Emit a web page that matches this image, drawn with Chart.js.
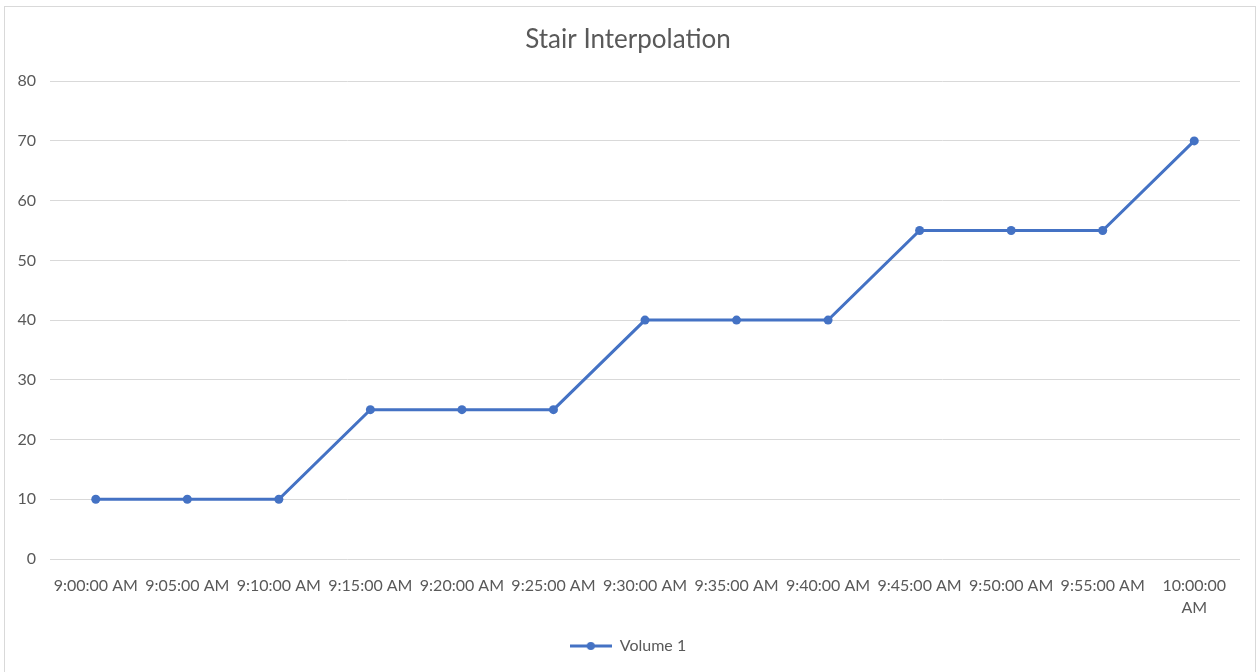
<!DOCTYPE html>
<html>
<head>
<meta charset="utf-8">
<script src="https://cdn.jsdelivr.net/npm/chart.js@4.4.1/dist/chart.umd.min.js"></script>
<style>
  html, body { margin: 0; padding: 0; background: #fff; }
  #frame {
    position: absolute; left: 4px; top: 6px;
    width: 1252px; height: 670px;
    border: 1px solid #d9d9d9; box-sizing: border-box;
  }
  #chart-stair { display: block; }
</style>
</head>
<body>
<div id="frame"><canvas id="chart-stair" width="1250" height="668"></canvas></div>
<script>
const timeLabels = [
  "9:00:00 AM", "9:05:00 AM", "9:10:00 AM", "9:15:00 AM", "9:20:00 AM",
  "9:25:00 AM", "9:30:00 AM", "9:35:00 AM", "9:40:00 AM", "9:45:00 AM",
  "9:50:00 AM", "9:55:00 AM", ["10:00:00", "AM"],
];
const volume1 = [10, 10, 10, 25, 25, 25, 40, 40, 40, 55, 55, 55, 70];
const yTicks = { min: 0, max: 80, step: 10 };

const lineColor = "#4472c4";
const textColor = "#595959";
const gridColor = "#d9d9d9";
const fontFamily = "Lato, 'Open Sans', sans-serif";

// legend marker: short line with a dot, like Excel
function legendMarker() {
  const c = document.createElement("canvas");
  c.width = 42;
  c.height = 10;
  const ctx = c.getContext("2d");
  ctx.strokeStyle = lineColor;
  ctx.lineWidth = 3;
  ctx.beginPath();
  ctx.moveTo(0, 5);
  ctx.lineTo(42, 5);
  ctx.stroke();
  ctx.fillStyle = lineColor;
  ctx.beginPath();
  ctx.arc(21, 5, 4, 0, Math.PI * 2);
  ctx.fill();
  return c;
}

const marker = legendMarker();

new Chart(document.getElementById("chart-stair").getContext("2d"), {
  type: "line",
  data: {
    labels: timeLabels,
    datasets: [
      {
        label: "Volume 1",
        data: volume1,
        borderColor: lineColor,
        backgroundColor: lineColor,
        borderWidth: 3,
        pointRadius: 4.5,
        pointHoverRadius: 4.5,
        pointBackgroundColor: lineColor,
        pointBorderWidth: 0,
        tension: 0,
        fill: false,
      },
    ],
  },
  options: {
    responsive: false,
    animation: false,
    layout: { padding: { left: 11, right: 15, top: 0, bottom: 11 } },
    plugins: {
      title: {
        display: true,
        text: "Stair Interpolation",
        color: textColor,
        font: { family: fontFamily, size: 26, weight: "normal" },
        padding: { top: 17, bottom: 26 },
      },
      legend: {
        position: "bottom",
        labels: {
          color: textColor,
          font: { family: fontFamily, size: 16 },
          usePointStyle: true,
          pointStyleWidth: 42,
          padding: 10,
          generateLabels: (chart) =>
            chart.data.datasets.map((ds, i) => ({
              text: ds.label,
              pointStyle: marker,
              fontColor: textColor,
              datasetIndex: i,
              lineWidth: 0,
            })),
        },
      },
      tooltip: { enabled: false },
    },
    scales: {
      x: {
        offset: true,
        grid: { display: false, drawTicks: false },
        border: { display: false },
        ticks: {
          color: textColor,
          font: { family: fontFamily, size: 16, lineHeight: 1.35 },
          maxRotation: 0,
          autoSkip: false,
          padding: 16,
        },
        afterFit: (scale) => {
          scale.height = 69;
        },
      },
      y: {
        min: yTicks.min,
        max: yTicks.max,
        grid: { color: gridColor, lineWidth: 1, drawTicks: false },
        border: { display: false },
        ticks: {
          stepSize: yTicks.step,
          color: textColor,
          font: { family: fontFamily, size: 16 },
          padding: 14,
        },
        afterFit: (scale) => {
          scale.width = 34;
        },
      },
    },
  },
});
</script>
</body>
</html>
